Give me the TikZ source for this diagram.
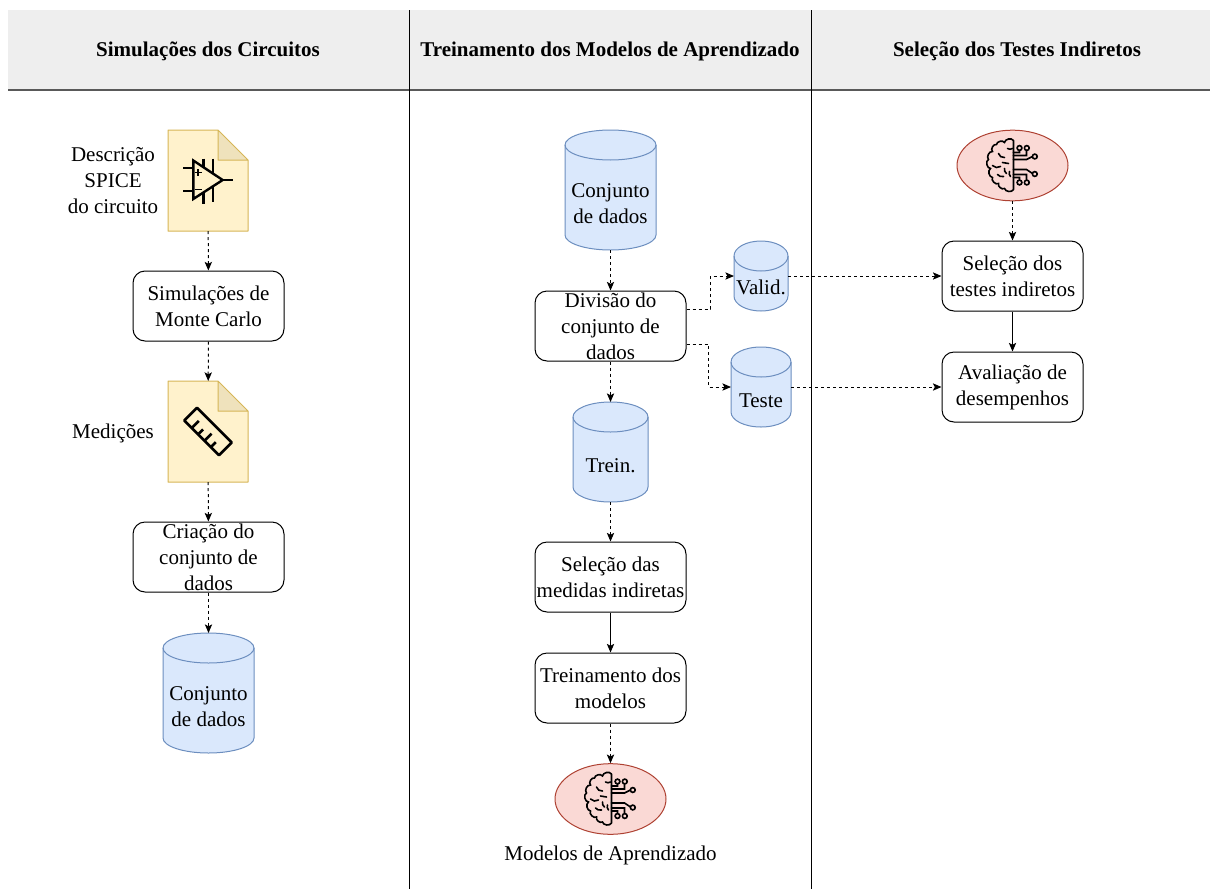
\documentclass[tikz,border=0pt]{standalone}
\usepackage{fontspec}
\setmainfont{Liberation Serif}
\usetikzlibrary{arrows.meta,positioning,shapes.geometric}
\definecolor{headgray}{HTML}{EEEEEE}
\definecolor{docfill}{HTML}{FFF2CC}
\definecolor{docline}{HTML}{D6B656}
\definecolor{docfold}{HTML}{EFE2BC}
\definecolor{cylfill}{HTML}{DAE8FC}
\definecolor{cylline}{HTML}{6C8EBF}
\definecolor{modfill}{HTML}{FAD9D5}
\definecolor{modline}{HTML}{AE4132}
\newcommand{\docshape}[1]{
\fill[docfill] (#1.north west) -- ++(50,0) -- ++(30,30) -- (#1.south east) -- (#1.south west) -- cycle;
\fill[docfold] (#1.north east) ++(-30,0) -- ++(30,30) -- ++(-30,0) -- cycle;
\draw[docline, line width=.75pt, line join=round] (#1.north west) -- ++(50,0) -- ++(30,30) -- (#1.south east) -- (#1.south west) -- cycle
	(#1.north east) ++(-30,0) -- ++(0,30) -- ++(30,0);
}
\newcommand{\cylshape}[2]{
\filldraw[draw=cylline, fill=cylfill] (#1.north west) ++(0,15) arc[start angle=180, end angle=0, x radius=#2, y radius=11.25pt]
	-- ([yshift=11.25pt]#1.south east) arc[start angle=0, end angle=-180, x radius=#2, y radius=11.25pt] -- cycle;
\draw[cylline] (#1.north west) ++(0,15) arc[start angle=180, end angle=360, x radius=#2, y radius=11.25pt];
}
\newcommand{\brainicon}[1]{
\begin{scope}[shift={(#1.center)}, line width=1.2pt, line cap=round]
\draw (1,-25) -- (1,24) (1,24) to[bend left=70] (-8,23) to[bend left=70] (-14,18)
	to[bend left=80] (-20,12) to[bend left=70] (-22,3) to[bend left=80] (-24,-6)
	to[bend left=70] (-20,-14) to[bend left=80] (-16,-21) to[bend left=70] (-8,-23) to[bend left=70] (1,-25);
\draw (-14,-12) to[bend right=40] (-8,-8) (-20,0) to[bend right=40] (-12,1)
	(-8,3) to[bend right=30] (-6,8) (-15,9) to[bend right=30] (-9,11)
	(-3,6) to[bend right=30] (-2,11) (-5,-17) to[bend right=30] (0,-17) (-10,-3) -- (-4,-2);
\draw (1,-13) -- (7,-13) -- (7,-15) (1,-10) -- (14,-10) -- (14,-15)
	(1,-6) -- (14,-6) -- (20,-9) (1,4) -- (14,4) -- (20,8)
	(1,9) -- (14,9) -- (14,14) (1,12) -- (7,12) -- (7,14);
\foreach \cx/\cy in {7/-17.5, 14.3/-17.5, 22.3/-9, 22.3/8.5, 7/17, 14.3/17}
	\draw (\cx,\cy) circle (1.8pt);
\end{scope}
}
\begin{document}
\begin{tikzpicture}[x=.75pt, y=-.75pt, line width=.75pt, >={Stealth[length=6.5pt,width=5.5pt,inset=1.5pt]}]
\useasboundingbox (0,0) rectangle (1210,889);
\tikzstyle{every node} = [font=\fontsize{15.75}{19.5}\selectfont, align=center, inner sep=0pt]
\tikzstyle{stepbox} = [draw, rounded corners=9pt, fill=white, minimum width=113.25pt, minimum height=52.5pt]
\tikzstyle{modelell} = [ellipse, draw=modline, fill=modfill, minimum width=83.25pt, minimum height=53pt]
\tikzstyle{docbox} = [minimum width=60pt, minimum height=75.75pt, outer sep=0pt]
\tikzstyle{cylbox} = [outer sep=0pt]
\tikzstyle{headtext} = [font=\fontsize{15.75}{19.5}\selectfont\bfseries]
\tikzstyle{flow} = [->, dashed, dash pattern=on 2.25pt off 2.25pt]
% cabecalhos
\fill[headgray] (8,10) rectangle (1210,90);
\draw[black!65, line width=1pt] (8,90) -- (1210,90);
\draw (409,10) -- (409,889);
\draw (811,10) -- (811,889);
\node[headtext] (h1) at (208,51.5) {Simulações dos Circuitos};
\node[headtext] (h2) at (610,51.5) {Treinamento dos Modelos de Aprendizado};
\node[headtext] (h3) at (1017,51.5) {Seleção dos Testes Indiretos};
% coluna 1
\node[docbox] (spice) at (208,180.5) {};
\docshape{spice}
\node (spicelabel) at (113,181) {Descrição\\SPICE\\do circuito};
\begin{scope}[shift={(spice.center)}, line width=1.8pt]
\draw[line join=miter] (-14.7,-20) -- (-14.7,18.5) -- (14.7,-.5) -- cycle;
\draw (14.7,-.5) -- (24.7,-.5) (-24.7,-12.5) -- (-14.7,-12.5) (-24.7,10.5) -- (-14.7,10.5)
	(-4.7,-22) -- (-4.7,-14) (4.7,-22) -- (4.7,-8) (-4.7,12) -- (-4.7,23) (4.7,6) -- (4.7,21);
\draw[line width=1.3pt] (-13.5,-8) -- (-6.5,-8) (-10,-11.5) -- (-10,-4.5) (-13.5,9) -- (-6.5,9);
\end{scope}
\node[stepbox] (monte) at (208.5,306) {Simulações de\\Monte Carlo};
\node[docbox] (medidas) at (208,431.5) {};
\docshape{medidas}
\node (medlabel) at (113,433) {Medições};
\begin{scope}[shift={(medidas.center)}, rotate=-45, line width=2pt, line join=round]
\draw (-24.5,-9) rectangle (24.5,9);
\foreach \tx/\ty in {-14/-1, -5/2, 4/-1, 13/2}
	\draw (\tx,9) -- (\tx,\ty);
\end{scope}
\node[stepbox] (criacao) at (208.5,557) {Criação do\\conjunto de\\dados};
\node[cylbox, minimum width=68.25pt, minimum height=90pt] (dados1) at (208.5,693) {};
\cylshape{dados1}{34.125pt}
\node (dados1text) at ([yshift=-10.5pt]dados1.center) {Conjunto\\de dados};
\draw[flow] (spice) -- (monte);
\draw[flow] (monte) -- (medidas);
\draw[flow] (medidas) -- (criacao);
\draw[flow] (criacao) -- (dados1);
% coluna 2
\node[cylbox, minimum width=68.25pt, minimum height=90pt] (dados2) at (610.5,190) {};
\cylshape{dados2}{34.125pt}
\node (dados2text) at ([yshift=-10.5pt]dados2.center) {Conjunto\\de dados};
\node[stepbox] (divisao) at (610.5,326) {Divisão do\\conjunto de\\dados};
\node[cylbox, minimum width=56.25pt, minimum height=75pt] (trein) at (610.5,452) {};
\cylshape{trein}{28.125pt}
\node (treintext) at ([yshift=-10.5pt]trein.center) {Trein.};
\node[stepbox] (selmed) at (610.5,577) {Seleção das\\medidas indiretas};
\node[stepbox] (treino) at (610.5,688) {Treinamento dos\\modelos};
\node[modelell] (modelo) at (610.5,799) {};
\brainicon{modelo}
\node (modlabel) at (610.5,855) {Modelos de Aprendizado};
\node[cylbox, minimum width=40.5pt, minimum height=52.5pt] (valid) at (761,276) {};
\cylshape{valid}{20.25pt}
\node (validtext) at ([yshift=-8.25pt]valid.center) {Valid.};
\node[cylbox, minimum width=45pt, minimum height=60pt] (teste) at (761,387) {};
\cylshape{teste}{22.5pt}
\node (testetext) at ([yshift=-10.5pt]teste.center) {Teste};
\draw[flow] (dados2) -- (divisao);
\draw[flow] (divisao) -- (trein);
\draw[flow] (trein) -- (selmed);
\draw[->] (selmed) -- (treino);
\draw[flow] (treino) -- (modelo);
% coluna 3
\node[modelell] (modelo2) at (1012.5,165.5) {};
\brainicon{modelo2}
\node[stepbox, minimum width=105.75pt] (seltest) at (1012.5,276) {Seleção dos\\testes indiretos};
\node[stepbox, minimum width=105.75pt] (aval) at (1012.5,387) {Avaliação de\\desempenhos};
\draw[flow] (modelo2) -- (seltest);
\draw[->] (seltest) -- (aval);
\draw[flow] ([yshift=12.75pt]divisao.east) -- ++(24,0) |- (valid.west |- seltest.west);
\draw[flow] ([yshift=-13.5pt]divisao.east) -- ++(22,0) |- (teste.west |- aval.west);
\draw[flow] (seltest.west -| valid.east) -- (seltest.west);
\draw[flow] (aval.west -| teste.east) -- (aval.west);
\end{tikzpicture}
\end{document}
